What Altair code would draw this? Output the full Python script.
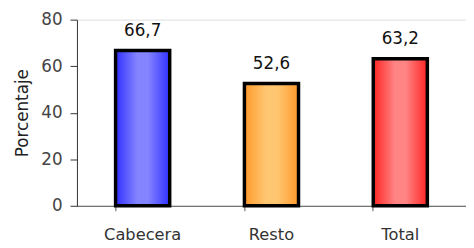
import altair as alt
import pandas as pd

categories = ["Cabecera", "Resto", "Total"]
values = [66.7, 52.6, 63.2]
labels = ["66,7", "52,6", "63,2"]
edge_colors = ["#3030ff", "#ff9a2a", "#ff2424"]
center_colors = ["#8484ff", "#ffc672", "#ff8484"]

df = pd.DataFrame({"cat": categories, "val": values, "lab": labels})

FONT = "DejaVu Sans"

x = alt.X("cat:N", sort=categories, title=None,
          scale=alt.Scale(paddingInner=0.58, paddingOuter=0.3),
          axis=alt.Axis(labelAngle=0, bandPosition=0, tickSize=5, tickColor="#555555",
                        domainColor="#555555", labelPadding=16, labelFont=FONT,
                        labelFontSize=16.5, labelColor="#333333"))
y = alt.Y("val:Q", title="Porcentaje",
          scale=alt.Scale(domain=[0, 80]),
          axis=alt.Axis(values=[0, 20, 40, 60, 80], tickSize=7, tickColor="#333333",
                        domainColor="#333333", labelPadding=8, labelFont=FONT,
                        labelFontSize=17, labelColor="#444444", grid=False,
                        titleFont=FONT, titleFontSize=17, titleFontWeight="normal",
                        titleColor="#222222", titlePadding=10))

layers = []
for i, c in enumerate(categories):
    grad = alt.Gradient(
        gradient="linear", x1=0, x2=1, y1=0, y2=0,
        stops=[alt.GradientStop(offset=0, color=edge_colors[i]),
               alt.GradientStop(offset=0.4, color=center_colors[i]),
               alt.GradientStop(offset=0.6, color=center_colors[i]),
               alt.GradientStop(offset=1, color=edge_colors[i])])
    layers.append(
        alt.Chart(df).transform_filter(alt.datum.cat == c)
        .mark_bar(fill=grad, stroke="black", strokeWidth=3.5)
        .encode(x=x, y=y)
    )

text = alt.Chart(df).mark_text(dy=-20, font=FONT, fontSize=17, color="#111111").encode(
    x=alt.X("cat:N", sort=categories), y="val:Q", text="lab:N")

chart = alt.layer(*layers, text).properties(
    width=395, height=189,
    autosize=alt.AutoSizeParams(type="none"),
    padding={"left": 70, "top": 10, "right": 0, "bottom": 40},
).configure_view(stroke=None).configure(background="white")

chart.save("out.html", embed_options={"renderer": "svg", "actions": False})
